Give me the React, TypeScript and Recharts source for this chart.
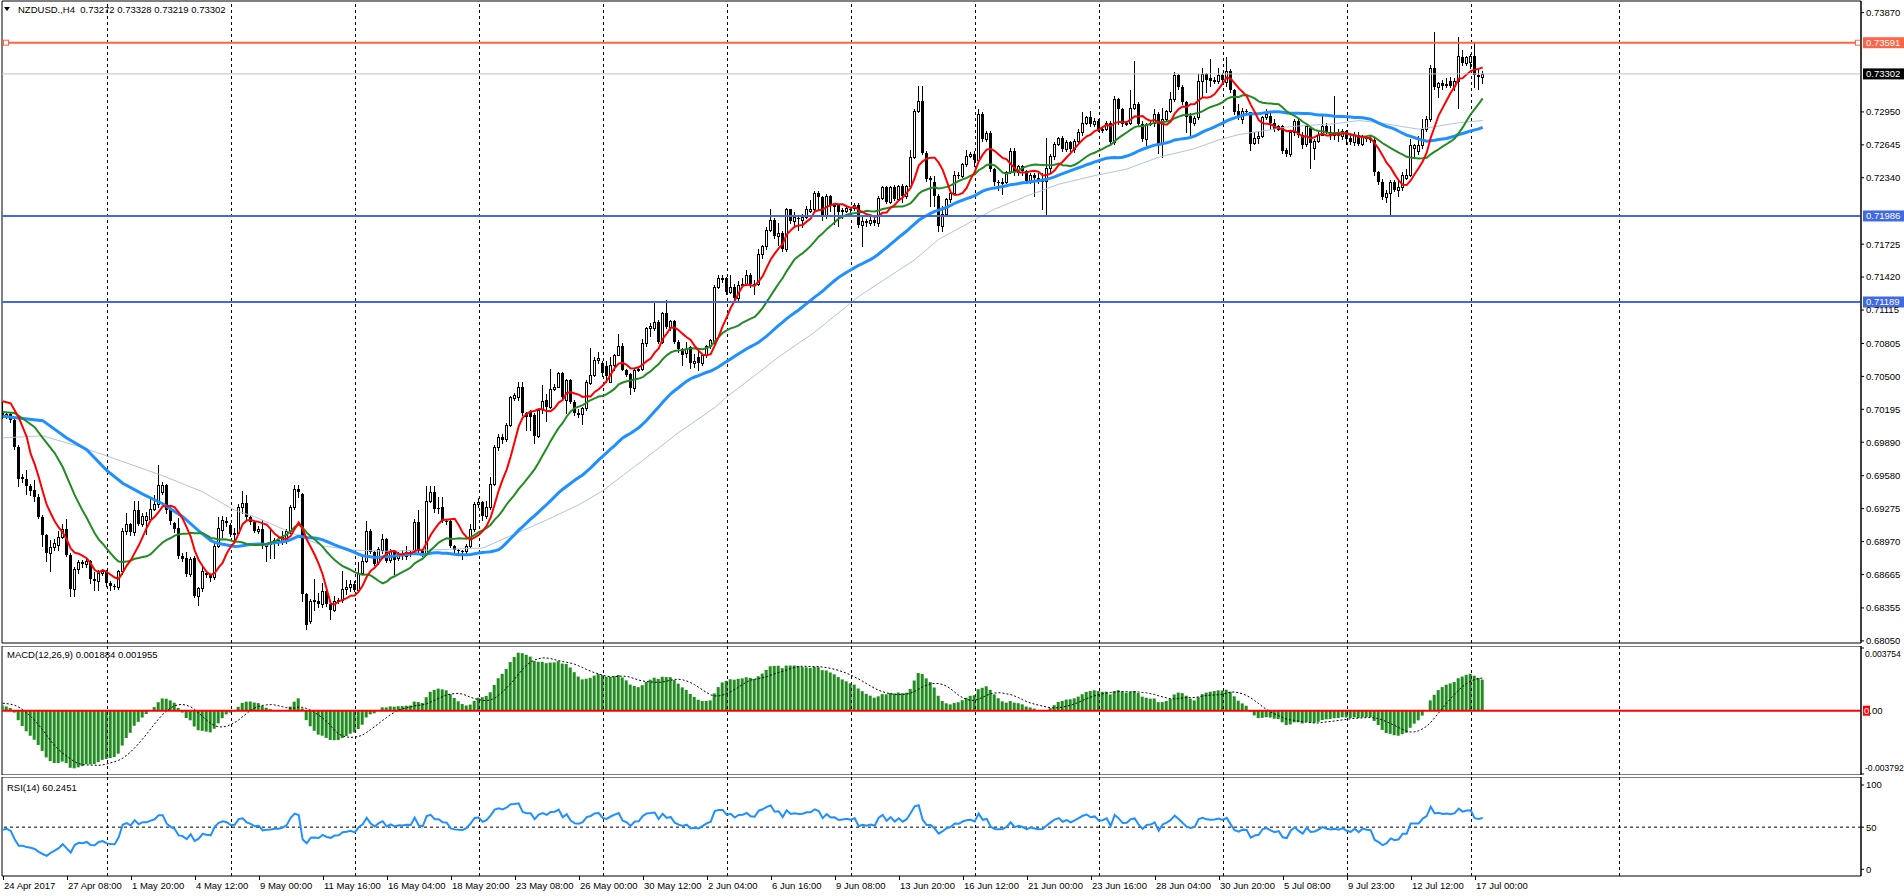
import React from 'react';
import { ComposedChart, Bar, Line, XAxis, YAxis, ReferenceLine, ReferenceArea } from 'recharts';

const FONT = '"Liberation Sans", Arial, sans-serif';

// ---------- price data, NZDUSD H4, values in pips (price x 10000): [open, high, low, close]
// bars 0-99 (24 Apr - 15 May)
const ohlcPart1: number[][] = [
  [7018,7026,7011,7013],[7013,7017,7011,7015],[7015,7017,7008,7010],[7010,7011,6983,6985],[6985,6986,6948,6955],
  [6957,6960,6952,6955],[6955,6963,6941,6948],[6948,6950,6940,6944],[6945,6954,6935,6938],[6938,6941,6919,6920],
  [6920,6922,6893,6903],[6903,6904,6879,6886],[6886,6898,6870,6892],[6892,6899,6889,6896],[6894,6907,6889,6901],
  [6901,6913,6900,6909],[6909,6918,6884,6885],[6885,6886,6847,6853],[6853,6873,6847,6872],[6872,6880,6868,6878],
  [6878,6880,6873,6876],[6876,6882,6873,6879],[6879,6880,6859,6862],[6862,6869,6852,6860],[6860,6871,6852,6868],
  [6868,6872,6866,6870],[6870,6871,6856,6859],[6859,6860,6852,6856],[6856,6858,6853,6855],[6855,6871,6853,6870],
  [6870,6910,6867,6907],[6907,6923,6904,6913],[6913,6914,6903,6906],[6906,6935,6903,6926],[6926,6935,6912,6913],
  [6913,6923,6911,6921],[6917,6924,6904,6921],[6918,6938,6916,6927],[6927,6940,6926,6932],[6932,6968,6929,6949],
  [6943,6952,6941,6949],[6949,6950,6923,6926],[6927,6929,6913,6916],[6914,6915,6906,6909],[6910,6919,6882,6884],
  [6884,6886,6879,6881],[6882,6887,6865,6867],[6867,6883,6865,6881],[6882,6884,6846,6847],[6847,6855,6838,6854],
  [6854,6873,6851,6870],[6868,6870,6864,6866],[6866,6867,6860,6863],[6864,6896,6862,6893],[6893,6920,6892,6910],
  [6908,6921,6901,6917],[6916,6920,6911,6914],[6912,6914,6902,6904],[6904,6910,6898,6905],[6905,6932,6904,6929],
  [6929,6944,6923,6933],[6933,6940,6917,6920],[6920,6921,6913,6915],[6915,6916,6906,6907],[6907,6911,6905,6909],
  [6909,6917,6891,6893],[6893,6896,6879,6895],[6895,6910,6882,6896],[6896,6900,6882,6898],[6897,6901,6894,6898],
  [6897,6907,6895,6901],[6898,6909,6896,6907],[6907,6931,6905,6929],[6929,6949,6927,6946],[6946,6949,6938,6943],
  [6941,6942,6842,6848],[6848,6849,6816,6820],[6823,6844,6822,6842],[6842,6862,6834,6843],[6842,6849,6836,6839],
  [6839,6859,6836,6851],[6851,6853,6837,6839],[6839,6840,6825,6834],[6834,6847,6833,6842],[6842,6845,6840,6843],
  [6843,6870,6841,6853],[6853,6861,6848,6855],[6855,6861,6851,6858],[6858,6860,6851,6852],[6852,6878,6850,6868],
  [6868,6884,6867,6879],[6879,6916,6878,6907],[6907,6909,6886,6887],[6887,6888,6875,6876],[6878,6892,6876,6890],
  [6889,6904,6886,6899],[6899,6900,6878,6879],[6880,6890,6878,6888],[6888,6888,6867,6880],[6882,6887,6880,6885],
];
// bars 100-199 (15 May - 6 Jun)
const ohlcPart2: number[][] = [
  [6885,6889,6881,6884],[6884,6893,6881,6887],[6887,6889,6884,6886],[6887,6918,6886,6915],[6915,6926,6887,6889],
  [6888,6890,6884,6886],[6886,6948,6885,6935],[6935,6948,6934,6943],[6943,6948,6924,6927],[6928,6938,6923,6927],
  [6929,6938,6915,6916],[6916,6918,6913,6915],[6916,6917,6892,6893],[6893,6894,6887,6889],[6889,6890,6886,6888],
  [6888,6889,6881,6887],[6888,6895,6886,6893],[6893,6913,6891,6909],[6909,6934,6907,6932],[6932,6937,6929,6934],
  [6934,6935,6917,6921],[6921,6935,6919,6929],[6929,6957,6927,6950],[6950,6986,6949,6985],[6985,6997,6982,6994],
  [6994,6997,6988,6991],[6992,7007,6990,7005],[7005,7032,7004,7031],[7030,7035,7028,7033],[7031,7045,7028,7040],
  [7040,7045,7014,7016],[7016,7017,7000,7012],[7017,7019,7000,7012],[7014,7016,6988,6995],[6995,7020,6994,7019],
  [7020,7042,7016,7027],[7028,7034,7009,7022],[7022,7057,7021,7038],[7038,7043,7037,7040],[7040,7054,7040,7053],
  [7053,7054,7028,7031],[7028,7048,7016,7047],[7047,7048,7025,7026],[7026,7028,7014,7016],[7016,7020,7012,7014],
  [7015,7022,7006,7021],[7021,7047,7019,7045],[7044,7076,7043,7051],[7051,7068,7050,7065],[7065,7073,7062,7067],
  [7062,7064,7050,7053],[7060,7064,7045,7050],[7045,7068,7045,7061],[7061,7071,7056,7070],[7070,7089,7070,7078],
  [7078,7081,7056,7056],[7056,7057,7050,7051],[7052,7053,7034,7039],[7039,7058,7036,7056],[7056,7058,7055,7057],
  [7057,7085,7056,7081],[7081,7096,7078,7095],[7095,7099,7087,7097],[7095,7118,7093,7100],[7100,7102,7081,7082],
  [7082,7110,7081,7109],[7109,7121,7095,7096],[7096,7102,7093,7101],[7101,7102,7081,7082],[7082,7084,7073,7075],
  [7075,7076,7061,7070],[7072,7082,7068,7075],[7077,7078,7058,7062],[7062,7071,7059,7064],[7068,7074,7056,7062],
  [7062,7071,7061,7070],[7070,7079,7068,7078],[7078,7085,7076,7084],[7082,7135,7080,7133],[7133,7144,7132,7141],
  [7140,7144,7137,7141],[7141,7142,7126,7128],[7128,7144,7127,7133],[7133,7136,7121,7123],[7123,7138,7121,7135],
  [7135,7141,7134,7136],[7136,7149,7135,7144],[7144,7146,7133,7136],[7136,7139,7126,7135],[7136,7168,7135,7163],
  [7163,7172,7160,7171],[7171,7188,7168,7186],[7186,7205,7185,7195],[7195,7197,7178,7180],[7180,7192,7172,7183],
  [7183,7185,7166,7168],[7168,7206,7166,7205],[7205,7205,7192,7194],[7194,7202,7189,7198],[7197,7199,7186,7196],
];
// bars 200-299 (6 Jun - 28 Jun)
const ohlcPart3: number[][] = [
  [7195,7200,7188,7198],[7198,7208,7197,7205],[7203,7213,7202,7205],[7205,7222,7202,7220],[7220,7222,7204,7216],
  [7216,7217,7195,7199],[7199,7219,7197,7217],[7217,7218,7203,7208],[7208,7211,7191,7209],[7209,7210,7189,7202],
  [7203,7206,7197,7204],[7203,7208,7202,7206],[7205,7207,7201,7204],[7206,7211,7204,7209],[7209,7211,7188,7190],
  [7190,7198,7171,7194],[7194,7196,7189,7192],[7192,7198,7190,7195],[7195,7197,7190,7192],[7192,7217,7189,7215],
  [7215,7226,7214,7225],[7225,7226,7211,7212],[7212,7226,7211,7225],[7225,7227,7213,7214],[7214,7227,7213,7226],
  [7226,7228,7212,7217],[7217,7227,7215,7226],[7226,7260,7225,7253],[7253,7298,7252,7296],[7296,7319,7295,7305],
  [7305,7319,7256,7257],[7257,7259,7231,7233],[7233,7236,7208,7234],[7230,7236,7208,7217],[7217,7219,7185,7189],
  [7189,7208,7185,7200],[7200,7215,7199,7214],[7214,7223,7212,7220],[7220,7240,7219,7237],[7237,7239,7234,7236],
  [7236,7248,7235,7247],[7247,7260,7245,7254],[7254,7258,7253,7256],[7256,7259,7245,7250],[7250,7298,7249,7293],
  [7293,7295,7268,7270],[7270,7277,7268,7275],[7275,7277,7240,7242],[7242,7243,7227,7230],[7230,7232,7223,7229],
  [7229,7234,7219,7230],[7230,7240,7229,7239],[7239,7262,7238,7259],[7259,7262,7237,7239],[7239,7246,7237,7245],
  [7245,7246,7237,7240],[7240,7241,7229,7231],[7231,7238,7229,7237],[7237,7238,7217,7234],[7234,7238,7229,7231],
  [7231,7238,7205,7232],[7231,7271,7200,7243],[7243,7256,7239,7254],[7254,7267,7251,7265],[7265,7272,7264,7271],
  [7271,7273,7259,7261],[7261,7269,7259,7267],[7267,7268,7259,7261],[7261,7270,7258,7268],[7268,7279,7267,7276],
  [7276,7295,7274,7285],[7285,7291,7284,7290],[7290,7296,7282,7284],[7284,7289,7282,7287],[7287,7288,7277,7278],
  [7278,7281,7276,7279],[7279,7287,7278,7285],[7285,7287,7264,7267],[7267,7310,7265,7307],[7307,7308,7284,7298],
  [7298,7299,7282,7284],[7284,7287,7283,7285],[7285,7315,7284,7299],[7299,7342,7298,7302],[7302,7304,7282,7284],
  [7284,7287,7268,7270],[7270,7285,7264,7284],[7284,7287,7283,7285],[7285,7298,7282,7293],[7293,7295,7257,7265],
  [7265,7299,7253,7288],[7288,7297,7287,7296],[7296,7313,7295,7307],[7307,7332,7305,7329],[7329,7330,7316,7318],
  [7318,7320,7302,7304],[7304,7305,7276,7290],[7291,7294,7274,7285],[7285,7291,7283,7289],[7290,7330,7288,7324],
];
// bars 300-370 (28 Jun - 17 Jul)
const ohlcPart4: number[][] = [
  [7324,7336,7310,7330],[7330,7331,7313,7325],[7326,7344,7319,7324],[7324,7327,7322,7325],[7324,7336,7322,7329],
  [7329,7331,7322,7325],[7323,7346,7319,7333],[7333,7335,7313,7315],[7315,7316,7293,7295],[7296,7302,7288,7290],
  [7288,7299,7285,7296],[7296,7298,7293,7295],[7295,7295,7260,7265],[7266,7276,7265,7271],[7271,7276,7266,7273],
  [7273,7291,7272,7290],[7290,7298,7288,7293],[7291,7294,7279,7285],[7285,7288,7277,7279],[7279,7283,7278,7282],
  [7282,7283,7257,7259],[7260,7262,7254,7256],[7256,7278,7254,7276],[7276,7288,7274,7287],[7287,7288,7272,7274],
  [7274,7276,7262,7264],[7265,7285,7263,7282],[7280,7282,7243,7266],[7262,7270,7251,7268],[7268,7276,7267,7274],
  [7274,7291,7274,7282],[7282,7285,7275,7276],[7276,7282,7270,7274],[7274,7310,7270,7276],[7275,7279,7268,7273],
  [7273,7279,7270,7277],[7277,7278,7265,7270],[7271,7274,7265,7267],[7267,7276,7264,7274],[7274,7276,7264,7265],
  [7265,7274,7264,7273],[7271,7273,7268,7270],[7270,7273,7267,7269],[7269,7271,7237,7239],[7239,7240,7228,7230],
  [7230,7233,7214,7216],[7216,7223,7212,7220],[7220,7232,7200,7230],[7230,7232,7222,7223],[7223,7232,7217,7225],
  [7225,7239,7223,7237],[7234,7242,7233,7237],[7237,7270,7236,7264],[7262,7265,7254,7264],[7259,7273,7256,7264],
  [7264,7288,7262,7279],[7279,7291,7277,7288],[7288,7338,7287,7336],[7336,7369,7316,7318],[7318,7323,7309,7322],
  [7322,7325,7316,7319],[7320,7326,7318,7321],[7324,7327,7318,7319],[7319,7326,7315,7324],[7324,7364,7299,7347],
  [7346,7352,7338,7340],[7340,7347,7338,7346],[7341,7349,7336,7347],[7347,7360,7318,7329],[7329,7335,7316,7327],
  [7327.2,7332.8,7321.9,7330.2],
];

const redWarmup: number[][] = [[0,7027],[2,7025],[4,7012],[6,6994]];
const greenWarmup: number[][] = [[0,7017],[3,7016],[5,7011],[8,7003],[10,6993],[13,6979],[15,6966],[18,6940]];
const blueWarmup: number[][] = [[0,7013],[5,7011],[10,7009],[16,6993],[21,6982],[26,6963],[30,6951],[35,6941],[40,6932],[45,6920]];
// slow light MA: [bar, pips]
const greyPoints: number[][] = [
  [0,6993],[10,6995],[20,6984],[27,6975],[40,6958],[50,6943],[58,6926],[63,6920],[71,6907],[80,6893],[88,6889],
  [96,6888],[105,6889],[113,6890],[120,6891],[128,6904],[136,6917],[144,6931],[150,6944],[161,6975],[169,6998],
  [178,7021],[181,7031],[186,7045],[194,7068],[203,7091],[211,7115],[214,7124],[228,7158],[234,7177],[243,7195],
  [248,7205],[256,7217],[264,7228],[273,7236],[281,7242],[289,7253],[298,7261],[304,7269],[309,7274],[316,7278],
  [321,7281],[324,7282],[333,7284],[339,7287],[344,7285],[349,7282],[354,7279],[359,7282],[364,7285],[370,7287],
];
// indicator states before the first bar
const macdSeed = { ema12: 7021.5, ema26: 7017.3, signal: 4.6 };
const rsiSeed = { avgGain: 3.8, avgLoss: 4.3 };

// horizontal levels
const levelRed = 0.73591;
const levelBid = 0.73302;
const levelBlue1 = 0.71986;
const levelBlue2 = 0.71189;

const priceTicks = [0.73870,0.72950,0.72645,0.72340,0.71725,0.71420,0.71115,0.70805,0.70500,0.70195,0.69890,0.69580,0.69275,0.68970,0.68665,0.68355,0.68050];
const macdTicks = [0.003754, -0.003792];
const rsiTicks = [0, 50, 100];
const timeLabels = ['24 Apr 2017','27 Apr 08:00','1 May 20:00','4 May 12:00','9 May 00:00','11 May 16:00','16 May 04:00','18 May 20:00','23 May 08:00','26 May 00:00','30 May 12:00','2 Jun 04:00','6 Jun 16:00','9 Jun 08:00','13 Jun 20:00','16 Jun 12:00','21 Jun 00:00','23 Jun 16:00','28 Jun 04:00','30 Jun 20:00','5 Jul 08:00','9 Jul 23:00','12 Jul 12:00','17 Jul 00:00'];
const BARS_PER_LABEL = 16;
const gridBars = [26.15,57.15,88.15,119.15,150.15,181.15,212.15,243.15,274.15,305.15,336.15,367.15,404.1];

// ---------- derived series
const P = (v: number) => v / 10000;
const bars = [...ohlcPart1, ...ohlcPart2, ...ohlcPart3, ...ohlcPart4];
const closes = bars.map((b) => b[3]);
const smaAt = (n: number, i: number) => {
  let s = 0;
  for (let k = i - n + 1; k <= i; k++) s += closes[k];
  return s / n;
};
const toMap = (pts: number[][]) => new Map<number, number>(pts.map((p) => [p[0], p[1]] as [number, number]));
const redW = toMap(redWarmup), greenW = toMap(greenWarmup), blueW = toMap(blueWarmup), greyM = toMap(greyPoints);

const macdArr: number[] = [];
{
  let e12 = macdSeed.ema12, e26 = macdSeed.ema26;
  closes.forEach((c) => {
    e12 += (2 / 13) * (c - e12);
    e26 += (2 / 27) * (c - e26);
    macdArr.push(e12 - e26);
  });
}
const signalArr = macdArr.map((_, i) => {
  let s = 0, n = 0;
  for (let k = Math.max(0, i - 8); k <= i; k++) { s += macdArr[k]; n++; }
  return (s + (9 - n) * macdSeed.signal) / 9;
});
const rsiArr: number[] = [];
{
  let ag = rsiSeed.avgGain, al = rsiSeed.avgLoss;
  closes.forEach((c, i) => {
    const d = i === 0 ? 0 : c - closes[i - 1];
    ag = (ag * 13 + Math.max(d, 0)) / 14;
    al = (al * 13 + Math.max(-d, 0)) / 14;
    rsiArr.push(al === 0 ? 100 : 100 - 100 / (1 + ag / al));
  });
}

const rows = bars.map((b, i) => ({
  i,
  o: P(b[0]), h: P(b[1]), l: P(b[2]), c: P(b[3]),
  range: [P(b[2]), P(b[1])],
  red: i >= 7 ? P(smaAt(8, i)) : redW.has(i) ? P(redW.get(i)!) : null,
  green: i >= 20 ? P(smaAt(21, i)) : greenW.has(i) ? P(greenW.get(i)!) : null,
  blue: i >= 49 ? P(smaAt(50, i)) : blueW.has(i) ? P(blueW.get(i)!) : null,
  grey: greyM.has(i) ? P(greyM.get(i)!) : null,
  macd: P(macdArr[i]),
  signal: P(signalArr[i]),
  rsi: rsiArr[i],
}));

// ---------- layout
const X0 = -0.175, X1 = 464.575;
const PRICE_DOMAIN: [number, number] = [0.680302, 0.739774];
const MACD_DOMAIN: [number, number] = [-0.003852, 0.003874];
const RSI_DOMAIN: [number, number] = [-7.95, 109.49];
const txt = { fontSize: 9.5, fill: '#000', fontFamily: FONT };

const Candle = (props: any) => {
  const { x, y, width, height, payload } = props;
  if (!payload || x == null || y == null) return null;
  const { o, h, l, c } = payload;
  const y1 = Math.min(y, y + height), y2 = Math.max(y, y + height);
  const col = Math.floor(x + width / 2);
  const k = h > l ? (y2 - y1) / (h - l) : 0;
  const yO = y1 + (h - o) * k, yC = y1 + (h - c) * k;
  const top = Math.round(Math.min(yO, yC)), bot = Math.round(Math.max(yO, yC));
  const up = c >= o;
  return (
    <g>
      <line x1={col + 0.5} x2={col + 0.5} y1={Math.round(y1)} y2={Math.round(y2) + 1} stroke="#000" strokeWidth={1} shapeRendering="crispEdges" />
      {up ? (
        <rect x={col - 0.5} y={top + 0.5} width={2} height={Math.max(bot - top, 1)} fill="#fff" stroke="#000" strokeWidth={1} shapeRendering="crispEdges" />
      ) : (
        <rect x={col - 1} y={top} width={3} height={Math.max(bot - top, 1)} fill="#000" shapeRendering="crispEdges" />
      )}
    </g>
  );
};

const Badge = (props: any) => {
  const { viewBox, text, bg, markers } = props;
  if (!viewBox) return null;
  const right = viewBox.x + viewBox.width;
  const y = viewBox.y;
  return (
    <g>
      {markers && (
        <>
          <rect x={viewBox.x + 1.5} y={y - 2.5} width={5} height={5} fill="#fff" stroke={bg} strokeWidth={1} />
          <rect x={right - 5.5} y={y - 2.5} width={5} height={5} fill="#fff" stroke={bg} strokeWidth={1} />
        </>
      )}
      <rect x={right + 2} y={y - 5.5} width={41} height={11} fill={bg} />
      <text x={right + 5} y={y} dy="0.35em" {...txt} fill="#fff">{text}</text>
    </g>
  );
};

const ZeroBadge = (props: any) => {
  const { viewBox } = props;
  if (!viewBox) return null;
  const right = viewBox.x + viewBox.width;
  const y = viewBox.y;
  return (
    <g>
      <rect x={right + 2} y={y - 5} width={7} height={10} fill="#FF0000" />
      <text x={right + 3} y={y} dy="0.35em" {...txt}>
        <tspan fill="#fff">0</tspan><tspan fill="#000">.00</tspan>
      </text>
    </g>
  );
};

const MacdTick = (props: any) => {
  const { x, y, payload } = props;
  const dy = payload.value > 0 ? 6 : -6;
  return (
    <text x={x - 1} y={y + dy} dy="0.35em" fontSize={8.6} fill="#000" fontFamily={FONT}>
      {payload.value.toFixed(6)}
    </text>
  );
};

const TimeTick = (props: any) => {
  const { x, y, payload } = props;
  const idx = Math.round(payload.value / BARS_PER_LABEL);
  const cx = Math.round(x);
  return (
    <g>
      <line x1={cx + 0.5} x2={cx + 0.5} y1={y} y2={y + 4} stroke="#000" shapeRendering="crispEdges" />
      <text x={cx + 1} y={y + 13} {...txt}>{timeLabels[idx]}</text>
    </g>
  );
};

const gridLines = (key: string) =>
  gridBars.map((g) => (
    <ReferenceLine key={key + g} x={g} stroke="#000" strokeWidth={1} strokeDasharray="3 3" shapeRendering="crispEdges" />
  ));

export default function App() {
  const timeTicks = timeLabels.map((_, k) => k * BARS_PER_LABEL);
  return (
    <div style={{ position: 'fixed', left: 0, top: 0, width: 1904, height: 896, background: '#fff', fontFamily: FONT, overflow: 'hidden' }}>
      {/* main price panel */}
      <div style={{ position: 'absolute', left: 0, top: 0 }}>
        <ComposedChart width={1904} height={652} data={rows} margin={{ top: 1, right: 0, bottom: 9, left: 2 }}>
          <XAxis type="number" dataKey="i" domain={[X0, X1]} allowDataOverflow hide />
          <YAxis orientation="right" width={43} domain={PRICE_DOMAIN} allowDataOverflow ticks={priceTicks} interval={0}
            tick={txt} tickFormatter={(v: number) => v.toFixed(5)} tickSize={3} tickMargin={2}
            tickLine={{ stroke: '#000' }} axisLine={{ stroke: '#000' }} />
          <ReferenceArea x1={X0} x2={X1} y1={PRICE_DOMAIN[0]} y2={PRICE_DOMAIN[1]} fill="none" fillOpacity={0} stroke="#000" strokeWidth={1} ifOverflow="visible" />
          {gridLines('m')}
          <Bar dataKey="range" barSize={3} shape={<Candle />} isAnimationActive={false} />
          <Line dataKey="grey" stroke="#B0C4DE" strokeWidth={1} dot={false} connectNulls isAnimationActive={false} />
          <Line dataKey="blue" stroke="#1E90FF" strokeWidth={3} dot={false} connectNulls isAnimationActive={false} />
          <Line dataKey="green" stroke="#228B22" strokeWidth={2} dot={false} connectNulls isAnimationActive={false} />
          <Line dataKey="red" stroke="#FF0000" strokeWidth={2} dot={false} connectNulls isAnimationActive={false} />
          <ReferenceLine y={levelBid} stroke="#C0C0C0" strokeWidth={1} label={<Badge text={levelBid.toFixed(5)} bg="#000" />} />
          <ReferenceLine y={levelRed} stroke="#FF6347" strokeWidth={2} label={<Badge text={levelRed.toFixed(5)} bg="#FF6347" markers />} />
          <ReferenceLine y={levelBlue1} stroke="#4169E1" strokeWidth={2} label={<Badge text={levelBlue1.toFixed(5)} bg="#4169E1" />} />
          <ReferenceLine y={levelBlue2} stroke="#4169E1" strokeWidth={2} label={<Badge text={levelBlue2.toFixed(5)} bg="#4169E1" />} />
        </ComposedChart>
      </div>

      {/* MACD panel */}
      <div style={{ position: 'absolute', left: 0, top: 646 }}>
        <ComposedChart width={1904} height={129} data={rows} margin={{ top: 0, right: 0, bottom: 0, left: 2 }}>
          <XAxis type="number" dataKey="i" domain={[X0, X1]} allowDataOverflow hide />
          <YAxis orientation="right" width={43} domain={MACD_DOMAIN} allowDataOverflow ticks={macdTicks} interval={0}
            tick={<MacdTick />} tickSize={3} tickMargin={2} tickLine={{ stroke: '#000' }} axisLine={{ stroke: '#000' }} />
          <ReferenceArea x1={X0} x2={X1} y1={MACD_DOMAIN[0]} y2={MACD_DOMAIN[1]} fill="none" fillOpacity={0} stroke="#000" strokeWidth={1} ifOverflow="visible" />
          {gridLines('d')}
          <Bar dataKey="macd" fill="#228B22" barSize={3} isAnimationActive={false} />
          <Line dataKey="signal" stroke="#000" strokeWidth={1} strokeDasharray="2 2" dot={false} isAnimationActive={false} />
          <ReferenceLine y={0} stroke="#FF0000" strokeWidth={2} label={<ZeroBadge />} />
        </ComposedChart>
      </div>

      {/* RSI panel */}
      <div style={{ position: 'absolute', left: 0, top: 777 }}>
        <ComposedChart width={1904} height={119} data={rows} margin={{ top: 0, right: 0, bottom: 0, left: 2 }}>
          <XAxis type="number" dataKey="i" domain={[X0, X1]} allowDataOverflow ticks={timeTicks} interval={0}
            tick={<TimeTick />} tickSize={0} tickMargin={0} tickLine={false} axisLine={false} height={20} />
          <YAxis orientation="right" width={43} domain={RSI_DOMAIN} allowDataOverflow ticks={rsiTicks} interval={0}
            tick={txt} tickSize={3} tickMargin={2} tickLine={{ stroke: '#000' }} axisLine={{ stroke: '#000' }} />
          <ReferenceArea x1={X0} x2={X1} y1={RSI_DOMAIN[0]} y2={RSI_DOMAIN[1]} fill="none" fillOpacity={0} stroke="#000" strokeWidth={1} ifOverflow="visible" />
          {gridLines('r')}
          <ReferenceLine y={50} stroke="#000" strokeWidth={1} strokeDasharray="3 3" />
          <Line dataKey="rsi" stroke="#1E90FF" strokeWidth={2} dot={false} isAnimationActive={false} />
        </ComposedChart>
      </div>

      {/* panel captions */}
      <div style={{ position: 'absolute', left: 4, top: 7, width: 0, height: 0, borderLeft: '3.5px solid transparent', borderRight: '3.5px solid transparent', borderTop: '4px solid #000' }} />
      <div style={{ position: 'absolute', left: 18, top: 4, fontSize: 9.5, lineHeight: '11px', color: '#000', whiteSpace: 'pre' }}>
        NZDUSD.,H4  0.73272 0.73328 0.73219 0.73302
      </div>
      <div style={{ position: 'absolute', left: 7, top: 648.5, fontSize: 9.5, lineHeight: '11px', color: '#000', whiteSpace: 'pre' }}>
        MACD(12,26,9) 0.001884 0.001955
      </div>
      <div style={{ position: 'absolute', left: 7, top: 781.5, fontSize: 9.5, lineHeight: '11px', color: '#000', whiteSpace: 'pre' }}>
        RSI(14) 60.2451
      </div>
    </div>
  );
}
